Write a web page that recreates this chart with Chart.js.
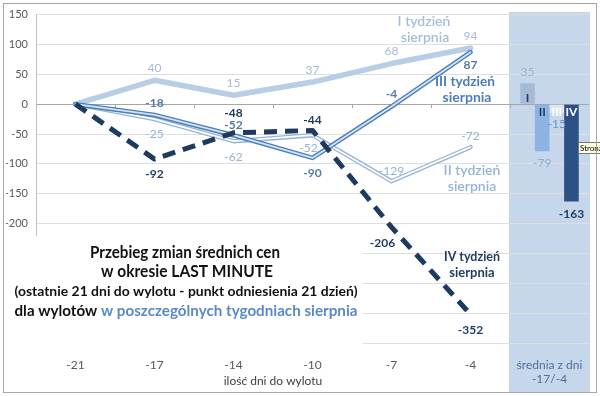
<!DOCTYPE html>
<html>
<head>
<meta charset="utf-8">
<script src="https://cdn.jsdelivr.net/npm/chart.js@4"></script>
<style>
  body { margin: 0; background: #fff; }
</style>
</head>
<body>
<canvas id="lastMinuteChart" width="600" height="396"></canvas>
<script>
// data
const categories = ['-21', '-17', '-14', '-10', '-7', '-4', ['średnia z dni', '-17/-4']];
const week1 = [0, 40, 15, 37, 68, 94, null];
const week2 = [0, -25, -62, -52, -129, -72, null];
const week3 = [0, -18, -52, -90, -4, 87, null];
const week4 = [0, -92, -48, -44, -206, -352, null];
const averageLabels = ['I', 'II', 'III', 'IV'];
const averages = [35, -79, -15, -163];
const yMin = -400, yMax = 150, yStep = 50;

// label placement (pixel offsets from the point)
const w1Dy = [null, -12, -12, -12, -12, -12];
const w2Dy = [null, 15, 16, 13, -10, -11];
const w2Dx = [0, 0, 0, -4, 0, 0];
const w3Dy = [null, -12, -10, 15, -12, 13];
const w4Dy = [null, 15, -20, -10, 16, 16];
const w4Dx = [0, 0, 0, 0, -9, 0];
const barDy = [-11, 12, 11, 13];

const FONT = 'Lato, "Open Sans", sans-serif';
const colI = '#b9cde5', colII = '#95b3d7', colIII = '#4a7ebb', colIV = '#1f3a5f';
const barColors = ['#a7bbd6', '#8db3e2', '#dce6f2', '#2c5185'];
const barTextColors = ['#1f3a5f', '#1f3a5f', '#ffffff', '#ffffff'];

function lastOnly(v) {
	return categories.map((c, i) => i === categories.length - 1 ? v : null);
}

const barSets = averages.map((v, i) => ({
	type: 'bar',
	label: averageLabels[i],
	data: lastOnly(v),
	backgroundColor: barColors[i],
	categoryPercentage: 0.74,
	barPercentage: 1,
	order: 9,
	lbl: { dy: [0, 0, 0, 0, 0, 0, barDy[i]], color: ['#9fb4d0', '#8aaedb', '#6f93c3', colIV][i], bold: i === 3 },
	inner: { text: averageLabels[i], color: barTextColors[i] }
}));

function lineSet(label, data, color, width, order, extra) {
	return Object.assign({
		type: 'line', label, data,
		borderColor: color, borderWidth: width,
		pointRadius: 0, fill: false, tension: 0, order,
		borderCapStyle: 'round', borderJoinStyle: 'round'
	}, extra || {});
}

// ✅ labels for points and bars
const pointLabelsPlugin = {
	id: 'pointLabels',
	afterDatasetsDraw(chart) {
		const { ctx } = chart;
		ctx.save();
		ctx.textAlign = 'center';
		ctx.textBaseline = 'middle';
		chart.data.datasets.forEach((ds, di) => {
			const meta = chart.getDatasetMeta(di);
			if (ds.inner) {
				const el = meta.data[6];
				ctx.font = 'bold 12px ' + FONT;
				ctx.fillStyle = ds.inner.color;
				ctx.fillText(ds.inner.text, el.x, el.y > el.base ? el.base + 7 : el.base - 6);
			}
			if (!ds.lbl) return;
			ds.data.forEach((v, i) => {
				const dy = ds.lbl.dy[i];
				if (v === null || dy === null || dy === undefined || dy === 0) return;
				const el = meta.data[i];
				const dx = ds.lbl.dx ? ds.lbl.dx[i] : 0;
				ctx.font = (ds.lbl.bold ? 'bold ' : '') + '12px ' + FONT;
				ctx.fillStyle = ds.lbl.color;
				ctx.fillText(String(v), el.x + dx, el.y + dy);
			});
		});
		ctx.restore();
	}
};

function drawParts(ctx, parts, cx, y, targetW, font) {
	ctx.font = font;
	const total = parts.reduce((s, p) => s + ctx.measureText(p[0]).width, 0);
	const k = Math.min(1, targetW / total);
	ctx.save();
	ctx.translate(cx - total * k / 2, y);
	ctx.scale(k, 1);
	ctx.textAlign = 'left';
	ctx.textBaseline = 'middle';
	let x = 0;
	parts.forEach(p => {
		ctx.fillStyle = p[1];
		ctx.fillText(p[0], x, 0);
		x += ctx.measureText(p[0]).width;
	});
	ctx.restore();
}

// ✅ band, title box, notes, frame
const decorPlugin = {
	id: 'decor',
	beforeDraw(chart) {
		const { ctx } = chart;
		ctx.save();
		ctx.fillStyle = '#c6d7ec';
		ctx.fillRect(509, 12, 81, 380);
		ctx.restore();
	},
	beforeDatasetsDraw(chart) {
		const { ctx, chartArea, scales } = chart;
		ctx.save();
		ctx.fillStyle = '#ffffff';
		ctx.fillRect(4, 236, 359, 116);
		// category tick marks on the zero line
		const y0 = scales.y.getPixelForValue(0);
		const w = (chartArea.right - chartArea.left) / categories.length;
		ctx.strokeStyle = '#a6a6a6';
		ctx.lineWidth = 1;
		for (let i = 1; i < categories.length; i++) {
			const x = Math.round(chartArea.left + i * w) + 0.5;
			ctx.beginPath();
			ctx.moveTo(x, y0);
			ctx.lineTo(x, y0 + 4);
			ctx.stroke();
		}
		ctx.restore();
	},
	afterDraw(chart) {
		const { ctx } = chart;
		ctx.save();
		// title text box
		drawParts(ctx, [['Przebieg zmian średnich cen', '#111']], 185, 253, 190, 'bold 17px ' + FONT);
		drawParts(ctx, [['w okresie LAST MINUTE', '#111']], 187, 272, 172, 'bold 17px ' + FONT);
		drawParts(ctx, [['(ostatnie 21 dni do wylotu - punkt odniesienia 21 dzień)', '#111']], 186, 291, 343, 'bold 14px ' + FONT);
		drawParts(ctx, [['dla wylotów ', '#111'], ['w poszczególnych tygodniach sierpnia', '#5a8ac6']], 186, 311, 343, 'bold 16px ' + FONT);
		// series notes
		drawParts(ctx, [['I tydzień', '#a6bcd9']], 424, 21, 60, '600 14px ' + FONT);
		drawParts(ctx, [['sierpnia', '#a6bcd9']], 425, 37, 60, '600 14px ' + FONT);
		drawParts(ctx, [['III tydzień', colIII]], 465, 81, 60, 'bold 14px ' + FONT);
		drawParts(ctx, [['sierpnia', colIII]], 467, 97, 60, 'bold 14px ' + FONT);
		drawParts(ctx, [['II tydzień', '#95b3d7']], 472, 170, 60, '600 14px ' + FONT);
		drawParts(ctx, [['sierpnia', '#95b3d7']], 472, 186, 60, '600 14px ' + FONT);
		drawParts(ctx, [['IV tydzień', colIV]], 472, 257, 56, 'bold 13px ' + FONT);
		drawParts(ctx, [['sierpnia', colIV]], 472, 273, 56, 'bold 13px ' + FONT);
		// axis title
		drawParts(ctx, [['ilość dni do wylotu', '#404040']], 273, 381, 200, '12px ' + FONT);
		// tooltip left over in the picture
		ctx.fillStyle = '#ffffe1';
		ctx.fillRect(578, 142, 30, 12);
		ctx.strokeStyle = '#767676';
		ctx.strokeRect(578.5, 142.5, 30, 11);
		ctx.fillStyle = '#000';
		ctx.font = '8px ' + FONT;
		ctx.textBaseline = 'middle';
		ctx.fillText('Strona', 580, 148.5);
		// outer frame
		ctx.strokeStyle = '#a6a6a6';
		ctx.lineWidth = 1;
		ctx.strokeRect(3.5, 3.5, 593, 389);
		ctx.restore();
	}
};

const lmCtx = document.getElementById('lastMinuteChart').getContext('2d');

const lastMinuteChart = new Chart(lmCtx, {
	type: 'bar',
	data: {
		labels: categories,
		datasets: [
			lineSet('IV tydzień sierpnia', week4, colIV, 5, 1, {
				borderDash: [13, 8], borderCapStyle: 'butt',
				lbl: { dy: w4Dy, dx: w4Dx, color: colIV, bold: true }
			}),
			lineSet('III tydzień sierpnia (środek)', week3, '#d6e3f3', 1.8, 4),
			lineSet('III tydzień sierpnia', week3, colIII, 4.6, 5, {
				lbl: { dy: w3Dy, color: '#5679ab', bold: true }
			}),
			lineSet('II tydzień sierpnia (środek)', week2, '#ffffff', 1.8, 6),
			lineSet('II tydzień sierpnia', week2, colII, 4.4, 7, {
				lbl: { dy: w2Dy, dx: w2Dx, color: '#95b3d7' }
			}),
			lineSet('I tydzień sierpnia', week1, colI, 5.5, 10, {
				lbl: { dy: w1Dy, color: '#a3bbd9' }
			}),
			...barSets
		]
	},
	options: {
		responsive: false,
		animation: false,
		events: [],
		layout: { padding: { left: 6, right: 11, top: 13, bottom: 0 } },
		scales: {
			x: {
				offset: true,
				grid: { display: false, drawTicks: false },
				border: { display: false },
				ticks: {
					padding: 15,
					font: { family: FONT, size: 12 },
					color: (c) => c.index === 6 ? '#4f6f99' : '#595959',
					maxRotation: 0
				},
				afterFit(scale) { scale.height = 53; }
			},
			y: {
				min: yMin,
				max: yMax,
				grid: {
					drawTicks: false,
					color: (c) => c.tick && c.tick.value === 0 ? '#a6a6a6' : '#dedede'
				},
				border: { color: '#bfbfbf' },
				ticks: {
					stepSize: yStep,
					padding: 8,
					font: { family: FONT, size: 11 },
					color: '#595959',
					callback: (v) => v < -200 ? '' : v
				},
				afterFit(scale) { scale.width = 30; }
			}
		},
		plugins: {
			legend: { display: false },
			tooltip: { enabled: false }
		}
	},
	plugins: [decorPlugin, pointLabelsPlugin]
});
</script>
</body>
</html>
